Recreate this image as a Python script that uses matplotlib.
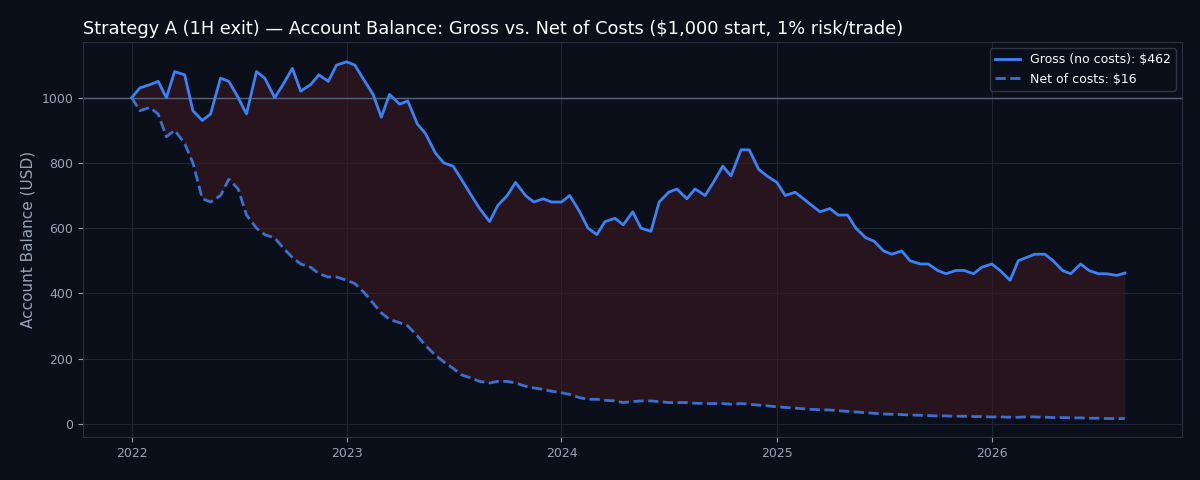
import matplotlib
matplotlib.use("Agg")
import matplotlib.pyplot as plt
import matplotlib.dates as mdates
import pandas as pd
import numpy as np

gross = [1000,1030,1040,1050,1000,1080,1070,960,930,950,1060,1050,1000,950,1080,1060,1000,1040,1090,1020,1040,1070,1050,1100,
         1110,1100,1050,1010,940,1010,980,990,920,890,830,800,790,750,700,660,620,670,700,740,700,680,690,680,
         680,700,650,600,580,620,630,610,650,600,590,680,710,720,690,720,700,740,790,760,840,840,780,760,
         740,700,710,690,670,650,660,640,640,600,570,560,530,520,530,500,490,490,470,460,470,470,460,480,
         490,470,440,500,510,520,520,500,470,460,490,470,460,460,455,462]
net = [1000,960,970,950,880,900,860,800,690,680,700,750,720,640,600,580,570,540,510,490,480,460,450,450,
       440,430,400,370,340,320,310,300,270,240,210,190,170,150,140,130,125,130,130,125,115,110,105,100,
       95,90,80,75,75,72,70,65,68,70,70,68,65,65,65,63,62,62,62,60,62,60,57,55,
       52,50,48,46,44,43,42,40,38,36,34,32,30,29,28,27,26,25,24,24,23,23,22,22,
       21,21,20,20,21,21,20,19,19,18,18,17,17,16,16,16]

dates = pd.date_range("2022-01-01", periods=len(gross), freq="SMS")

bg = "#0b0f19"
fig, ax = plt.subplots(figsize=(12, 4.8), dpi=100)
fig.patch.set_facecolor(bg)
ax.set_facecolor(bg)
fig.subplots_adjust(left=0.069, right=0.985, top=0.912, bottom=0.09)

ax.fill_between(dates, net, gross, color="#3a1820", alpha=0.6, linewidth=0)
ax.axhline(1000, color="#5a6478", linewidth=1)
ax.plot(dates, gross, color="#3b82f6", linewidth=2, label="Gross (no costs): $462")
ax.plot(dates, net, color="#3b6fd0", linewidth=2, linestyle="--", label="Net of costs: $16")

ax.grid(True, color="#1f2533", linewidth=0.8)
ax.set_axisbelow(True)
ax.xaxis.set_major_locator(mdates.YearLocator())
ax.xaxis.set_major_formatter(mdates.DateFormatter("%Y"))
ax.set_xlim(pd.Timestamp("2021-10-10"), pd.Timestamp("2026-11-20"))
ax.set_ylim(-40, 1170)
ax.tick_params(colors="#9aa3b5", labelsize=9)
for s in ax.spines.values():
    s.set_color("#2a3040")
ax.set_ylabel("Account Balance (USD)", color="#9aa3b5", fontsize=11)
ax.set_title("Strategy A (1H exit) — Account Balance: Gross vs. Net of Costs ($1,000 start, 1% risk/trade)",
             color="white", fontsize=12.8, loc="left")
leg = ax.legend(loc="upper right", facecolor=bg, edgecolor="#3a4050", fontsize=9)
for t in leg.get_texts():
    t.set_color("white")
fig.savefig("out.png", facecolor=bg)
